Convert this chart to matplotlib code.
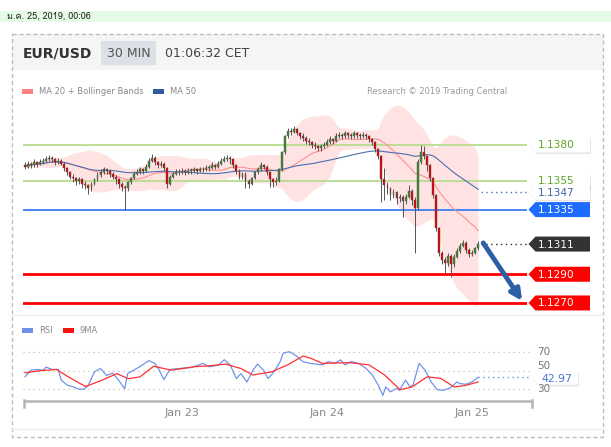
import numpy as np
import pandas as pd
import matplotlib
matplotlib.use("Agg")
import matplotlib.pyplot as plt
from matplotlib import font_manager, ft2font
from matplotlib.patches import Rectangle, Polygon

W, H = 611, 447

# ---------------------------------------------------------------------------
# EUR/USD 30 min candles (bar 0 = left edge, Jan 23/24/25 00:00 = bars 52/100/148)
# ---------------------------------------------------------------------------
open0 = 1.1366
close = [
    1.1365, 1.1367, 1.1366, 1.1368, 1.1367, 1.1368, 1.1369, 1.1370, 1.1371, 1.1370,
    1.1368, 1.1369, 1.1367, 1.1364, 1.1361, 1.1358, 1.1357, 1.1355, 1.1356, 1.1353,
    1.1352, 1.1350, 1.1353, 1.1356, 1.1359, 1.1361, 1.1363, 1.1362, 1.1360, 1.1358,
    1.1356, 1.1353, 1.1351, 1.1350, 1.1354, 1.1357, 1.1360, 1.1361, 1.1363, 1.1362,
    1.1365, 1.1369, 1.1371, 1.1368, 1.1366, 1.1367, 1.1364, 1.1353, 1.1358, 1.1360,
    1.1361, 1.1361, 1.1362, 1.1361, 1.1362, 1.1362, 1.1363, 1.1362, 1.1363, 1.1363,
    1.1364, 1.1364, 1.1366, 1.1365, 1.1367, 1.1369, 1.1370, 1.1371, 1.1370, 1.1366,
    1.1362, 1.1358, 1.1360, 1.1355, 1.1353, 1.1357, 1.1361, 1.1363, 1.1366, 1.1365,
    1.1361, 1.1356, 1.1354, 1.1355, 1.1363, 1.1375, 1.1386, 1.1390, 1.1389, 1.1391,
    1.1388, 1.1386, 1.1385, 1.1383, 1.1382, 1.1380, 1.1379, 1.1378, 1.1379, 1.1380,
    1.1382, 1.1384, 1.1383, 1.1386, 1.1387, 1.1386, 1.1388, 1.1387, 1.1386, 1.1388,
    1.1387, 1.1386, 1.1387, 1.1386, 1.1384, 1.1382, 1.1377, 1.1372, 1.1356, 1.1352,
    1.1350, 1.1345, 1.1347, 1.1343, 1.1344, 1.1341, 1.1344, 1.1348, 1.1342, 1.1336,
    1.1368, 1.1375, 1.1372, 1.1366, 1.1357, 1.1345, 1.1322, 1.1305, 1.1300, 1.1298,
    1.1303, 1.1297, 1.1302, 1.1306, 1.1310, 1.1312, 1.1307, 1.1304, 1.1305, 1.1308,
    1.1311,
]
high = [
    1.1368, 1.1369, 1.1368, 1.1370, 1.1369, 1.1370, 1.1371, 1.1372, 1.1373, 1.1372,
    1.1371, 1.1371, 1.1370, 1.1368, 1.1365, 1.1362, 1.1360, 1.1358, 1.1358, 1.1357,
    1.1355, 1.1353, 1.1354, 1.1357, 1.1361, 1.1363, 1.1365, 1.1364, 1.1363, 1.1361,
    1.1359, 1.1357, 1.1354, 1.1352, 1.1355, 1.1358, 1.1362, 1.1363, 1.1365, 1.1364,
    1.1367, 1.1371, 1.1374, 1.1372, 1.1369, 1.1369, 1.1368, 1.1365, 1.1359, 1.1361,
    1.1363, 1.1363, 1.1364, 1.1363, 1.1364, 1.1364, 1.1365, 1.1364, 1.1365, 1.1365,
    1.1366, 1.1366, 1.1368, 1.1367, 1.1369, 1.1371, 1.1372, 1.1373, 1.1372, 1.1371,
    1.1367, 1.1363, 1.1361, 1.1361, 1.1356, 1.1358, 1.1362, 1.1365, 1.1368, 1.1367,
    1.1366, 1.1362, 1.1357, 1.1358, 1.1364, 1.1376, 1.1387, 1.1392, 1.1392, 1.1393,
    1.1392, 1.1389, 1.1388, 1.1386, 1.1385, 1.1383, 1.1382, 1.1380, 1.1381, 1.1382,
    1.1384, 1.1386, 1.1385, 1.1388, 1.1389, 1.1388, 1.1390, 1.1389, 1.1388, 1.1390,
    1.1389, 1.1388, 1.1389, 1.1388, 1.1387, 1.1385, 1.1383, 1.1378, 1.1373, 1.1364,
    1.1354, 1.1351, 1.1349, 1.1348, 1.1346, 1.1345, 1.1346, 1.1352, 1.1349, 1.1344,
    1.1370, 1.1380, 1.1379, 1.1373, 1.1367, 1.1358, 1.1346, 1.1323, 1.1306, 1.1302,
    1.1305, 1.1304, 1.1304, 1.1308, 1.1312, 1.1314, 1.1313, 1.1308, 1.1307, 1.1309,
    1.1313,
]
low = [
    1.1363, 1.1364, 1.1364, 1.1365, 1.1365, 1.1366, 1.1367, 1.1368, 1.1369, 1.1368,
    1.1366, 1.1367, 1.1366, 1.1362, 1.1359, 1.1356, 1.1354, 1.1352, 1.1353, 1.1350,
    1.1349, 1.1346, 1.1348, 1.1352, 1.1355, 1.1358, 1.1360, 1.1360, 1.1358, 1.1356,
    1.1353, 1.1350, 1.1348, 1.1335, 1.1348, 1.1353, 1.1356, 1.1359, 1.1360, 1.1360,
    1.1361, 1.1364, 1.1368, 1.1366, 1.1364, 1.1365, 1.1362, 1.1350, 1.1352, 1.1357,
    1.1359, 1.1359, 1.1360, 1.1359, 1.1360, 1.1360, 1.1361, 1.1360, 1.1361, 1.1361,
    1.1362, 1.1362, 1.1363, 1.1363, 1.1364, 1.1366, 1.1368, 1.1369, 1.1367, 1.1364,
    1.1360, 1.1356, 1.1356, 1.1350, 1.1350, 1.1352, 1.1356, 1.1360, 1.1362, 1.1363,
    1.1359, 1.1351, 1.1351, 1.1352, 1.1354, 1.1362, 1.1374, 1.1385, 1.1387, 1.1388,
    1.1387, 1.1384, 1.1383, 1.1381, 1.1380, 1.1378, 1.1377, 1.1376, 1.1376, 1.1378,
    1.1379, 1.1381, 1.1381, 1.1382, 1.1385, 1.1384, 1.1385, 1.1385, 1.1384, 1.1385,
    1.1385, 1.1384, 1.1385, 1.1384, 1.1382, 1.1380, 1.1375, 1.1370, 1.1340, 1.1342,
    1.1346, 1.1342, 1.1343, 1.1339, 1.1340, 1.1330, 1.1339, 1.1343, 1.1338, 1.1305,
    1.1335, 1.1367, 1.1370, 1.1362, 1.1355, 1.1343, 1.1320, 1.1303, 1.1297, 1.1291,
    1.1296, 1.1288, 1.1295, 1.1301, 1.1305, 1.1309, 1.1305, 1.1302, 1.1303, 1.1304,
    1.1307,
]

# key levels
levels_green = [1.1380, 1.1355]
level_blue = 1.1335
levels_red = [1.1290, 1.1270]
label_ma50 = 1.1347
label_last = 1.1311

# RSI and its 9 period MA at (bar, value)
rsi_bar = [0, 2, 4, 6, 7, 9, 11, 12, 14, 16, 17.5, 19.5, 21, 23, 25, 27, 29, 31, 33, 34,
           36, 38, 41, 43, 44.5, 46, 48, 51, 55, 59, 61, 64, 66, 68, 70, 71.5, 73.5, 75.5,
           77, 79, 80.5, 82.5, 84.5, 85.5, 87.5, 89.5, 92, 94.5, 98.5, 100.5, 102.5, 104.5,
           106, 108, 110.5, 113, 115, 117, 118.5, 119.5, 121, 123, 124, 126, 127.5, 128.5,
           130.5, 132.5, 134.5, 136.5, 138.5, 141, 143, 144, 146, 148, 150]
rsi_val = [43.5, 50.7, 51.5, 50.7, 54, 51.5, 51.5, 40, 34.5, 32.7, 30.5, 30, 34.5, 49, 52.5,
           45, 47.5, 40, 30.7, 47, 50.7, 54.4, 61, 58, 50.7, 40.5, 51.5, 52.5, 53.6, 58, 54.4,
           56, 62, 56, 41.6, 47, 38, 50.7, 57.3, 50.7, 41.6, 49, 60, 69, 70.7, 67, 60, 58,
           56.4, 60, 58, 61.8, 56.4, 60, 58, 52.5, 45.5, 34.5, 23.5, 32.7, 27.3, 30.9, 29,
           40, 32.7, 34.5, 58, 50.7, 38, 29.6, 29, 31.8, 38, 36.2, 35.5, 38, 42.97]
ma9_bar = [0, 4.6, 10.4, 14.3, 20.1, 25.2, 30.4, 34.2, 38.1, 42.6, 48.4, 56.1, 61.2, 66.4,
           71.5, 75.4, 81.8, 87, 92.1, 94.7, 98.5, 107.5, 113.9, 119.1, 124.2, 128.1, 133.2,
           137.7, 142.2, 146.1, 150]
ma9_val = [47.8, 50, 51.5, 43.5, 33, 39.5, 47, 41.5, 43.5, 55, 50.7, 54.4, 55.5, 57.3, 52.5,
           45.5, 49, 56.5, 66, 63.5, 58, 58.9, 56.4, 45.5, 29.6, 32.5, 43.5, 41.8, 32.5,
           34.4, 38]
rsi_grid = [70, 50, 30]

day_bars = [52, 100, 148]
day_labels = ["Jan 23", "Jan 24", "Jan 25"]


def families_with(char):
    found = []
    for f in font_manager.fontManager.ttflist:
        try:
            if ord(char) in ft2font.FT2Font(f.fname).get_charmap() and f.name not in found:
                found.append(f.name)
        except Exception:
            pass
    return found


thai_fonts = families_with("ม")
date_family = thai_fonts[:1] + ["DejaVu Sans"]

# ---------------------------------------------------------------------------
c = pd.Series(close)
o = pd.Series([open0] + close[:-1])
ma20 = c.rolling(20, min_periods=1).mean()
sd20 = c.rolling(20, min_periods=1).std(ddof=0).fillna(0)
ma50 = c.rolling(50, min_periods=1).mean()
bars = np.arange(len(close))

fig = plt.figure(figsize=(W / 100, H / 100), dpi=100)
fig.patch.set_facecolor("white")


def add_px_axes(x0, y0, x1, y1, **kw):
    return fig.add_axes([x0 / W, 1 - y1 / H, (x1 - x0) / W, (y1 - y0) / H], **kw)


bg = add_px_axes(0, 0, W, H, zorder=0)
bg.set_xlim(0, W)
bg.set_ylim(H, 0)
bg.axis("off")

# page decorations
bg.add_patch(Rectangle((0, 11), W, 11, facecolor="#e5fbe5", edgecolor="none"))
bg.text(7, 16.5, "ม.ค. 25, 2019, 00:06", fontsize=6.5, color="#222222", va="center",
        family=date_family)
bg.add_patch(Rectangle((12, 33.5), 591, 36.5, facecolor="#f5f5f5", edgecolor="none"))
bg.add_patch(Rectangle((12, 33.5), 591, 403, facecolor="none", edgecolor="#bdbdbd",
                       lw=1, ls=(0, (3, 2))))
bg.add_patch(Rectangle((101, 41), 55, 24, facecolor="#dde0e7", edgecolor="none"))
bg.text(23, 53.5, "EUR/USD", fontsize=10, fontweight="bold", color="#333333", va="center")
bg.text(107, 53.5, "30 MIN", fontsize=9, color="#555555", va="center")
bg.text(165, 53.5, "01:06:32 CET", fontsize=9, color="#444444", va="center")
bg.plot([12, 603], [315, 315], color="#eeeeee", lw=1)
bg.plot([12, 603], [429, 429], color="#eeeeee", lw=1)

# legends
bg.add_patch(Rectangle((22, 89), 11, 5, facecolor="#ff8080", edgecolor="none"))
bg.text(39, 91.5, "MA 20 + Bollinger Bands", fontsize=6, color="#888888", va="center")
bg.add_patch(Rectangle((153, 89), 11, 5, facecolor="#2f5b9f", edgecolor="none"))
bg.text(170, 91.5, "MA 50", fontsize=6, color="#888888", va="center")
bg.text(507, 91.5, "Research © 2019 Trading Central", fontsize=6, color="#999999",
        va="center", ha="right")
bg.add_patch(Rectangle((22, 328), 11, 5, facecolor="#6f8fe6", edgecolor="none"))
bg.text(39, 330.5, "RSI", fontsize=6, color="#888888", va="center")
bg.add_patch(Rectangle((63, 328), 11, 5, facecolor="#ff1010", edgecolor="none"))
bg.text(80, 330.5, "9MA", fontsize=6, color="#888888", va="center")

# ---------------------------------------------------------------------------
# price panel
ax = add_px_axes(23, 100, 527, 310, zorder=2)
ax.patch.set_alpha(0)
ax.set_xlim(-0.66, 166.2)
ax.set_ylim(1.12651, 1.14113)
ax.axis("off")

ax.fill_between(bars, ma20 - 2 * sd20, ma20 + 2 * sd20, color="#ffe3e3", lw=0, zorder=1)
ax.plot(bars, ma20, color="#ff8f8f", lw=0.8, zorder=2)
ax.plot(bars, ma50, color="#4a6fb0", lw=0.8, zorder=2)

for lv in levels_green:
    ax.axhline(lv, color="#b9dc8f", lw=1.3, zorder=1.5)
ax.axhline(level_blue, color="#3d7ff5", lw=1.3, zorder=1.5)
for lv in levels_red:
    ax.axhline(lv, color="#ff0000", lw=2, zorder=1.5)

up = c >= o
body_lo = np.minimum(o, c)
body_h = np.maximum(np.abs(c - o), 0.00004)
ax.vlines(bars, low, high, color="#555555", lw=0.7, zorder=3)
ax.bar(bars, body_h, bottom=body_lo, width=0.62,
       color=np.where(up, "#3b8a2e", "#e00000"), edgecolor="#555555", lw=0.3, zorder=4)

ax.plot([bars[-1] + 1, 166.2], [label_ma50, label_ma50], color="#4a6fb0", lw=1,
        ls=(0, (1, 2.5)), zorder=2, clip_on=False)
ax.plot([bars[-1] + 1, 166.2], [label_last, label_last], color="#333333", lw=1,
        ls=(0, (1, 2.5)), zorder=2, clip_on=False)

ax.annotate("", xy=(164.6, 1.12714), xytext=(151.7, 1.13118), annotation_clip=False,
            arrowprops=dict(arrowstyle="-|>", lw=3.5, color="#2d5fa6",
                            mutation_scale=16, shrinkA=0, shrinkB=0), zorder=6)

# ---------------------------------------------------------------------------
# RSI panel
rs = add_px_axes(23, 340, 532, 401, zorder=2)
rs.patch.set_alpha(0)
rs.set_xlim(-0.66, 167.9)
rs.set_ylim(17.4, 83.3)
rs.axis("off")
for g in rsi_grid:
    rs.axhline(g, color="#c0c0c0", lw=0.9, ls=(0, (1, 3)))
rs.plot(rsi_bar, rsi_val, color="#7393ea", lw=0.9)
rs.plot(ma9_bar, ma9_val, color="#ff3030", lw=0.9)
rs.plot([rsi_bar[-1], 167.9], [rsi_val[-1], rsi_val[-1]], color="#6f8fe6", lw=1,
        ls=(0, (1, 2.5)))

# ---------------------------------------------------------------------------
top = add_px_axes(0, 0, W, H, zorder=10)
top.patch.set_alpha(0)
top.set_xlim(0, W)
top.set_ylim(H, 0)
top.axis("off")


def py(a, v):
    return H - a.transData.transform((0, v))[1]


def px(a, b):
    return a.transData.transform((b, 0))[0]


def tag(yc, text, face, color, x0=528.5, x1=590, h=7.5, shadow=False, fs=7.6):
    pts = [(x0, yc), (x0 + 7, yc - h), (x1, yc - h), (x1, yc + h), (x0 + 7, yc + h)]
    if shadow:
        top.add_patch(Polygon([(x + 1, y + 1.5) for x, y in pts], closed=True,
                              facecolor="#000000", alpha=0.10, lw=0))
    top.add_patch(Polygon(pts, closed=True, facecolor=face, edgecolor="none"))
    top.text(x0 + 9, yc + 0.5, text, color=color, fontsize=fs, va="center", ha="left")


for lv in levels_green:
    tag(py(ax, lv), f"{lv:.4f}", "white", "#5fa524", shadow=True)
tag(py(ax, label_ma50), f"{label_ma50:.4f}", "white", "#3d66a8", shadow=True)
tag(py(ax, level_blue), f"{level_blue:.4f}", "#1e6bff", "white")
tag(py(ax, label_last), f"{label_last:.4f}", "#333333", "white")
for lv in levels_red:
    tag(py(ax, lv), f"{lv:.4f}", "#ff0000", "white")

# "50" sits just above the RSI value tag, which hides its lower part
rsi_label_y = {70: py(rs, 70), 50: py(rs, 50) - 4.5, 30: py(rs, 30)}
for g in rsi_grid:
    top.text(537, rsi_label_y[g], str(g), fontsize=7.5, color="#777777", va="center")
tag(py(rs, rsi_val[-1]) + 1, f"{rsi_val[-1]:.2f}", "white", "#4a74d9", x0=532, x1=578,
    h=6.5, shadow=True, fs=7.8)

# time axis
top.plot([23.6, 532], [401, 401], color="#b5b5b5", lw=1.8, solid_capstyle="butt")
top.plot([23.6, 23.6], [400, 407], color="#b5b5b5", lw=1.8)
top.plot([532, 532], [400, 407], color="#b5b5b5", lw=1.8)
for b, lab in zip(day_bars, day_labels):
    top.text(px(rs, b), 413, lab, fontsize=8, color="#888888", ha="center", va="center")

fig.savefig("out.png", dpi=100)
